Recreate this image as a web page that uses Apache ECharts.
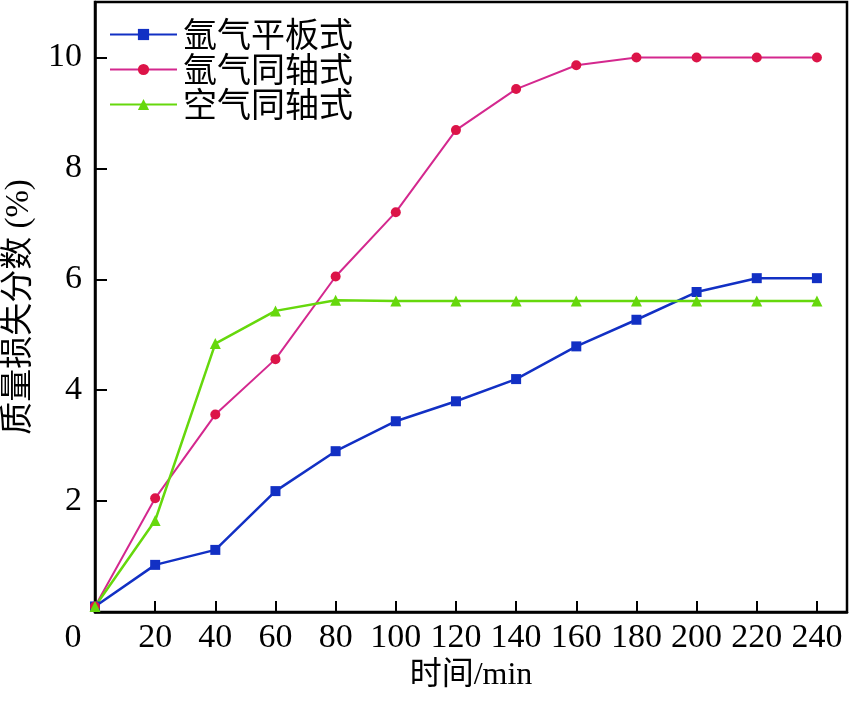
<!DOCTYPE html>
<html>
<head>
<meta charset="utf-8">
<script src="https://cdn.jsdelivr.net/npm/echarts@6/dist/echarts.min.js"></script>
<style>html,body{margin:0;padding:0;background:#fff;}#c{width:850px;height:701px;}</style>
</head>
<body>
<div id="c"></div>
<script>
const times = [0, 20, 40, 60, 80, 100, 120, 140, 160, 180, 200, 220, 240];
const seriesNames = ['氩气平板式', '氩气同轴式', '空气同轴式'];
const argonPlate = [0.1, 0.85, 1.12, 2.18, 2.9, 3.44, 3.8, 4.2, 4.79, 5.27, 5.77, 6.02, 6.02];
const argonCoax = [0.1, 2.05, 3.56, 4.56, 6.05, 7.21, 8.69, 9.43, 9.86, 10.0, 10.0, 10.0, 10.0];
const airCoax = [0.1, 1.65, 4.84, 5.43, 5.62, 5.61, 5.61, 5.61, 5.61, 5.61, 5.61, 5.61, 5.61];
const xAxisTitle = '时间/min';
const yAxisTitle = '质量损失分数 (%)';

const serif = 'Liberation Serif, Times New Roman, Noto Sans CJK SC, serif';
const cjk = 'Noto Sans CJK SC, Liberation Serif, sans-serif';

function pairs(vals) { return times.map((t, i) => [t, vals[i]]); }

const chart = echarts.init(document.getElementById('c'), null, {renderer: 'canvas'});
chart.setOption({
  animation: false,
  backgroundColor: '#fff',
  grid: {left: 95, right: 3, top: 2, bottom: 89, containLabel: false, outerBoundsMode: 'none',
    show: true, borderColor: '#000', borderWidth: 2.5, backgroundColor: 'transparent'},
  legend: {
    orient: 'vertical', left: 104, top: 12,
    itemWidth: 67, itemHeight: 14, itemGap: 0,
    textStyle: {fontFamily: cjk, fontSize: 34, color: '#000', lineHeight: 35, padding: [0, 0, 0, 1]},
    data: seriesNames
  },
  xAxis: {
    type: 'value', min: 0, max: 250, interval: 20,
    name: xAxisTitle, nameLocation: 'middle', nameGap: 42,
    nameTextStyle: {fontFamily: serif, fontSize: 32, color: '#000'},
    axisLine: {show: true, lineStyle: {color: '#000', width: 2.5}},
    axisTick: {show: true, inside: true, length: 11, lineStyle: {color: '#000', width: 2}},
    splitLine: {show: false},
    axisLabel: {
      showMaxLabel: false, margin: 9,
      fontFamily: serif, fontSize: 34, color: '#000',
      formatter: v => v === 0 ? '{z|0}' : String(v),
      rich: {z: {fontFamily: serif, fontSize: 34, color: '#000', padding: [0, 44, 0, 0]}}
    }
  },
  yAxis: {
    type: 'value', min: 0, max: 11, interval: 2,
    name: yAxisTitle, nameLocation: 'middle', nameGap: 59, nameRotate: 90,
    nameTextStyle: {fontFamily: serif, fontSize: 33, color: '#000'},
    axisLine: {show: true, lineStyle: {color: '#000', width: 2.5}},
    axisTick: {show: true, inside: true, length: 12, lineStyle: {color: '#000', width: 2}},
    splitLine: {show: false},
    axisLabel: {
      showMaxLabel: false, margin: 13,
      fontFamily: serif, fontSize: 34, color: '#000',
      formatter: v => v === 0 ? '' : String(v)
    }
  },
  series: [
    {
      name: seriesNames[0], type: 'line', data: pairs(argonPlate),
      symbol: 'rect', symbolSize: 10,
      lineStyle: {color: '#1230c4', width: 2.5},
      itemStyle: {color: '#1230c4'}
    },
    {
      name: seriesNames[1], type: 'line', data: pairs(argonCoax),
      symbol: 'circle', symbolSize: 10,
      lineStyle: {color: '#d4288e', width: 2},
      itemStyle: {color: '#dc1448'}
    },
    {
      name: seriesNames[2], type: 'line', data: pairs(airCoax),
      symbol: 'triangle', symbolSize: 11,
      lineStyle: {color: '#66d80c', width: 2.5},
      itemStyle: {color: '#66d80c'}
    }
  ]
});
</script>
</body>
</html>
